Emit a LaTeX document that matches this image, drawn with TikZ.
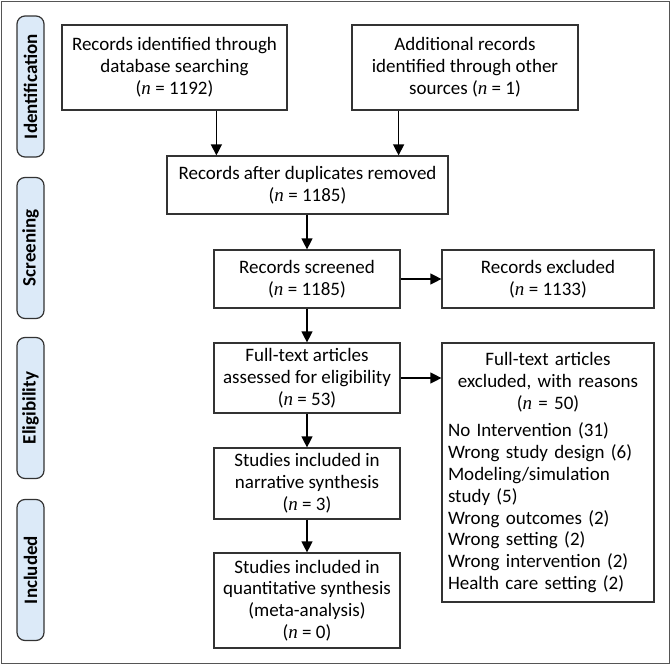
\documentclass[tikz,border=0pt]{standalone}
\usepackage{fontspec}
\setmainfont{Carlito}
\newfontfamily\nfont{Liberation Serif}
\usepackage{tikz}
\usetikzlibrary{arrows.meta, positioning, calc}
\definecolor{phaseFill}{HTML}{DCEAF8}
\definecolor{lineA}{HTML}{333333}
\definecolor{frameA}{HTML}{555555}
\newcommand{\nn}{{\nfont\itshape n}}
\tikzset{
  box/.style={
    draw=lineA, line width=1.2pt, align=center, inner sep=3pt,
    minimum width=#1, font=\fontsize{19}{21.8}\selectfont, text=black
  },
  phase/.style={
    draw=lineA, fill=phaseFill, rounded corners=8pt, line width=1.2pt,
    rotate=90, minimum width=141pt, minimum height=27pt, inner sep=0pt,
    font=\fontsize{19}{20}\selectfont\bfseries
  },
  arrow/.style={-{Triangle[length=11pt, width=11pt]}, line width=1.2pt, draw=black}
}
\begin{document}
\begin{tikzpicture}[x=1pt, y=-1pt]
  \useasboundingbox (0,0) rectangle (670,664);
  \draw[frameA, line width=1pt] (1,1) rectangle (669,663);
  % phase labels
  \node[phase] (pId) at (30.5,86.5) {Identification};
  \node[phase] (pSc) at (30.5,248) {Screening};
  \node[phase] (pEl) at (30.5,408) {Eligibility};
  \node[phase] (pIn) at (30.5,570) {Included};
  % boxes
  \node[box=225pt, minimum height=85pt] (rec1) at (174.5,67.5) {Records identified through\\database searching\\(\nn{} = 1192)};
  \node[box=226pt, minimum height=85pt] (rec2) at (465,67.5) {Additional records\\identified through other\\sources (\nn{} = 1)};
  \node[box=281pt, minimum height=58pt] (dup) at (307.5,185) {Records after duplicates removed\\(\nn{} = 1185)};
  \node[box=186pt, minimum height=58pt] (screened) at (307,279) {Records screened\\(\nn{} = 1185)};
  \node[box=212pt, minimum height=58pt] (excl) at (548,279) {Records excluded\\(\nn{} = 1133)};
  \node[box=186pt, minimum height=70pt] (full) at (307,378) {Full-text articles\\assessed for eligibility\\(\nn{} = 53)};
  \node[box=212pt, minimum height=259pt, text width=200pt, align=left] (reasons) at (548,472.5) {%
    {\centering Full-text articles\\excluded, with reasons\\(\nn{} = 50)\par}
    \vspace{6pt}
    No Intervention (31)\\
    Wrong study design (6)\\
    Modeling/simulation\\
    study (5)\\
    Wrong outcomes (2)\\
    Wrong setting (2)\\
    Wrong intervention (2)\\
    Health care setting (2)};
  \node[box=186pt, minimum height=71pt] (narr) at (307,483.5) {Studies included in\\narrative synthesis\\(\nn{} = 3)};
  \node[box=186pt, minimum height=95pt] (quant) at (307,600.5) {Studies included in\\quantitative synthesis\\(meta-analysis)\\(\nn{} = 0)};
  % connectors
  \coordinate (in1) at ($(dup.north west)+(50,0)$);
  \coordinate (in2) at ($(dup.north east)+(-50,0)$);
  \draw[arrow] (rec1.south -| in1) -- (in1);
  \draw[arrow] (rec2.south -| in2) -- (in2);
  \draw[arrow] (dup.south -| screened) -- (screened.north);
  \draw[arrow] (screened) -- (full);
  \draw[arrow] (screened.east) -- (excl.west);
  \draw[arrow] (full.east) -- (full.east -| reasons.west);
  \draw[arrow] (full) -- (narr);
  \draw[arrow] (narr) -- (quant);
\end{tikzpicture}
\end{document}
